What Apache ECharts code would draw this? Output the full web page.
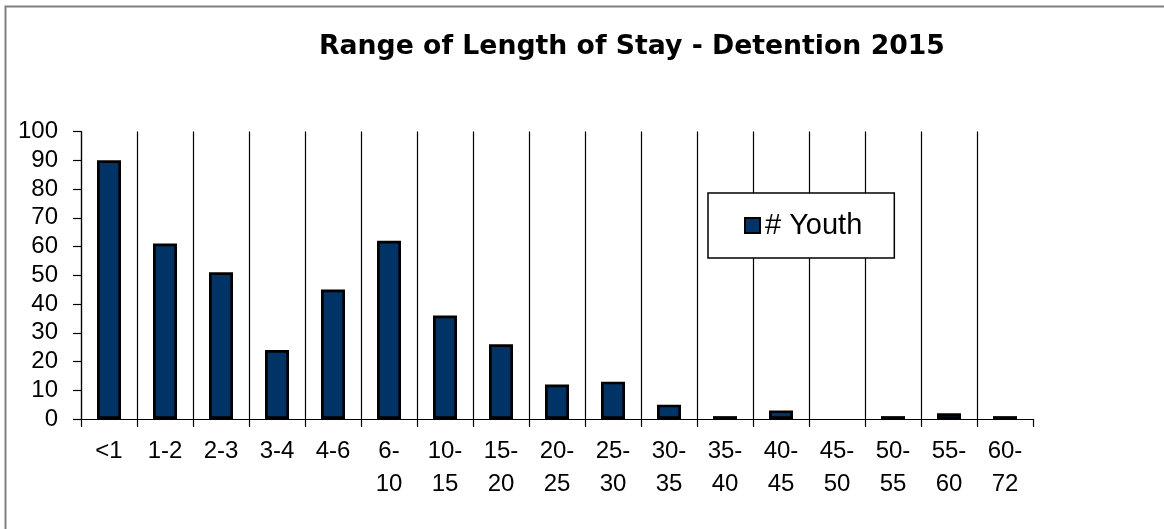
<!DOCTYPE html>
<html>
<head>
<meta charset="utf-8">
<script src="https://cdn.jsdelivr.net/npm/echarts@6/dist/echarts.min.js"></script>
<style>
html,body{margin:0;padding:0;background:#fff;}
#chart{width:1164px;height:529px;}
</style>
</head>
<body>
<div id="chart"></div>
<script>
const titleText = 'Range of Length of Stay - Detention 2015';
const categories = ['<1', '1-2', '2-3', '3-4', '4-6', '6-\n10', '10-\n15', '15-\n20', '20-\n25', '25-\n30', '30-\n35', '35-\n40', '40-\n45', '45-\n50', '50-\n55', '55-\n60', '60-\n72'];
const seriesName = '# Youth';
const youth = [90, 61, 51, 24, 45, 62, 36, 26, 12, 13, 5, 1, 3, 0, 1, 2, 1];
const yMin = 0, yMax = 100, yInterval = 10;

const chart = echarts.init(document.getElementById('chart'), null, {renderer: 'canvas'});
const FONT = '"Liberation Sans", Arial, sans-serif';
chart.setOption({
  animation: false,
  backgroundColor: '#fff',
  title: {
    text: titleText,
    left: 319,
    top: 34,
    padding: 0,
    textStyle: {fontFamily: 'DejaVu Sans', fontSize: 26.7, fontWeight: 'bold', color: '#000'}
  },
  graphic: [{
    type: 'rect',
    shape: {x: 5.5, y: 6.5, width: 1300, height: 700},
    style: {fill: null, stroke: '#808080', lineWidth: 2},
    silent: true
  }],
  legend: {
    left: 708,
    top: 193,
    orient: 'horizontal',
    padding: [18, 32, 18, 36],
    borderColor: '#000',
    borderWidth: 1.5,
    backgroundColor: '#fff',
    icon: 'rect',
    itemWidth: 15,
    itemHeight: 15,
    textStyle: {fontFamily: FONT, fontSize: 29, color: '#000'},
    data: [seriesName]
  },
  grid: {left: 81, right: 131, top: 131.5, bottom: 110, containLabel: false},
  xAxis: {
    type: 'category',
    data: categories,
    boundaryGap: true,
    axisLine: {show: true, lineStyle: {color: '#000', width: 1.2}},
    axisTick: {show: true, length: 8, lineStyle: {color: '#000', width: 1.2}},
    splitLine: {show: true, showMaxLine: false, lineStyle: {color: '#000', width: 1.2}},
    axisLabel: {
      interval: 0,
      margin: 16,
      fontFamily: FONT,
      fontSize: 24,
      lineHeight: 33,
      color: '#000',
      verticalAlign: 'top'
    }
  },
  yAxis: {
    type: 'value',
    min: yMin,
    max: yMax,
    interval: yInterval,
    axisLine: {show: true, lineStyle: {color: '#000', width: 1.2}},
    axisTick: {show: true, length: 8, lineStyle: {color: '#000', width: 1.2}},
    splitLine: {show: false},
    axisLabel: {margin: 23, fontFamily: FONT, fontSize: 24, color: '#000'}
  },
  series: [{
    name: seriesName,
    type: 'bar',
    data: youth.map(v => v === 0 ? {value: v, itemStyle: {borderWidth: 0}} : v),
    barWidth: 24,
    itemStyle: {color: '#003366', borderColor: '#000', borderWidth: 2.7}
  }]
});
</script>
</body>
</html>
